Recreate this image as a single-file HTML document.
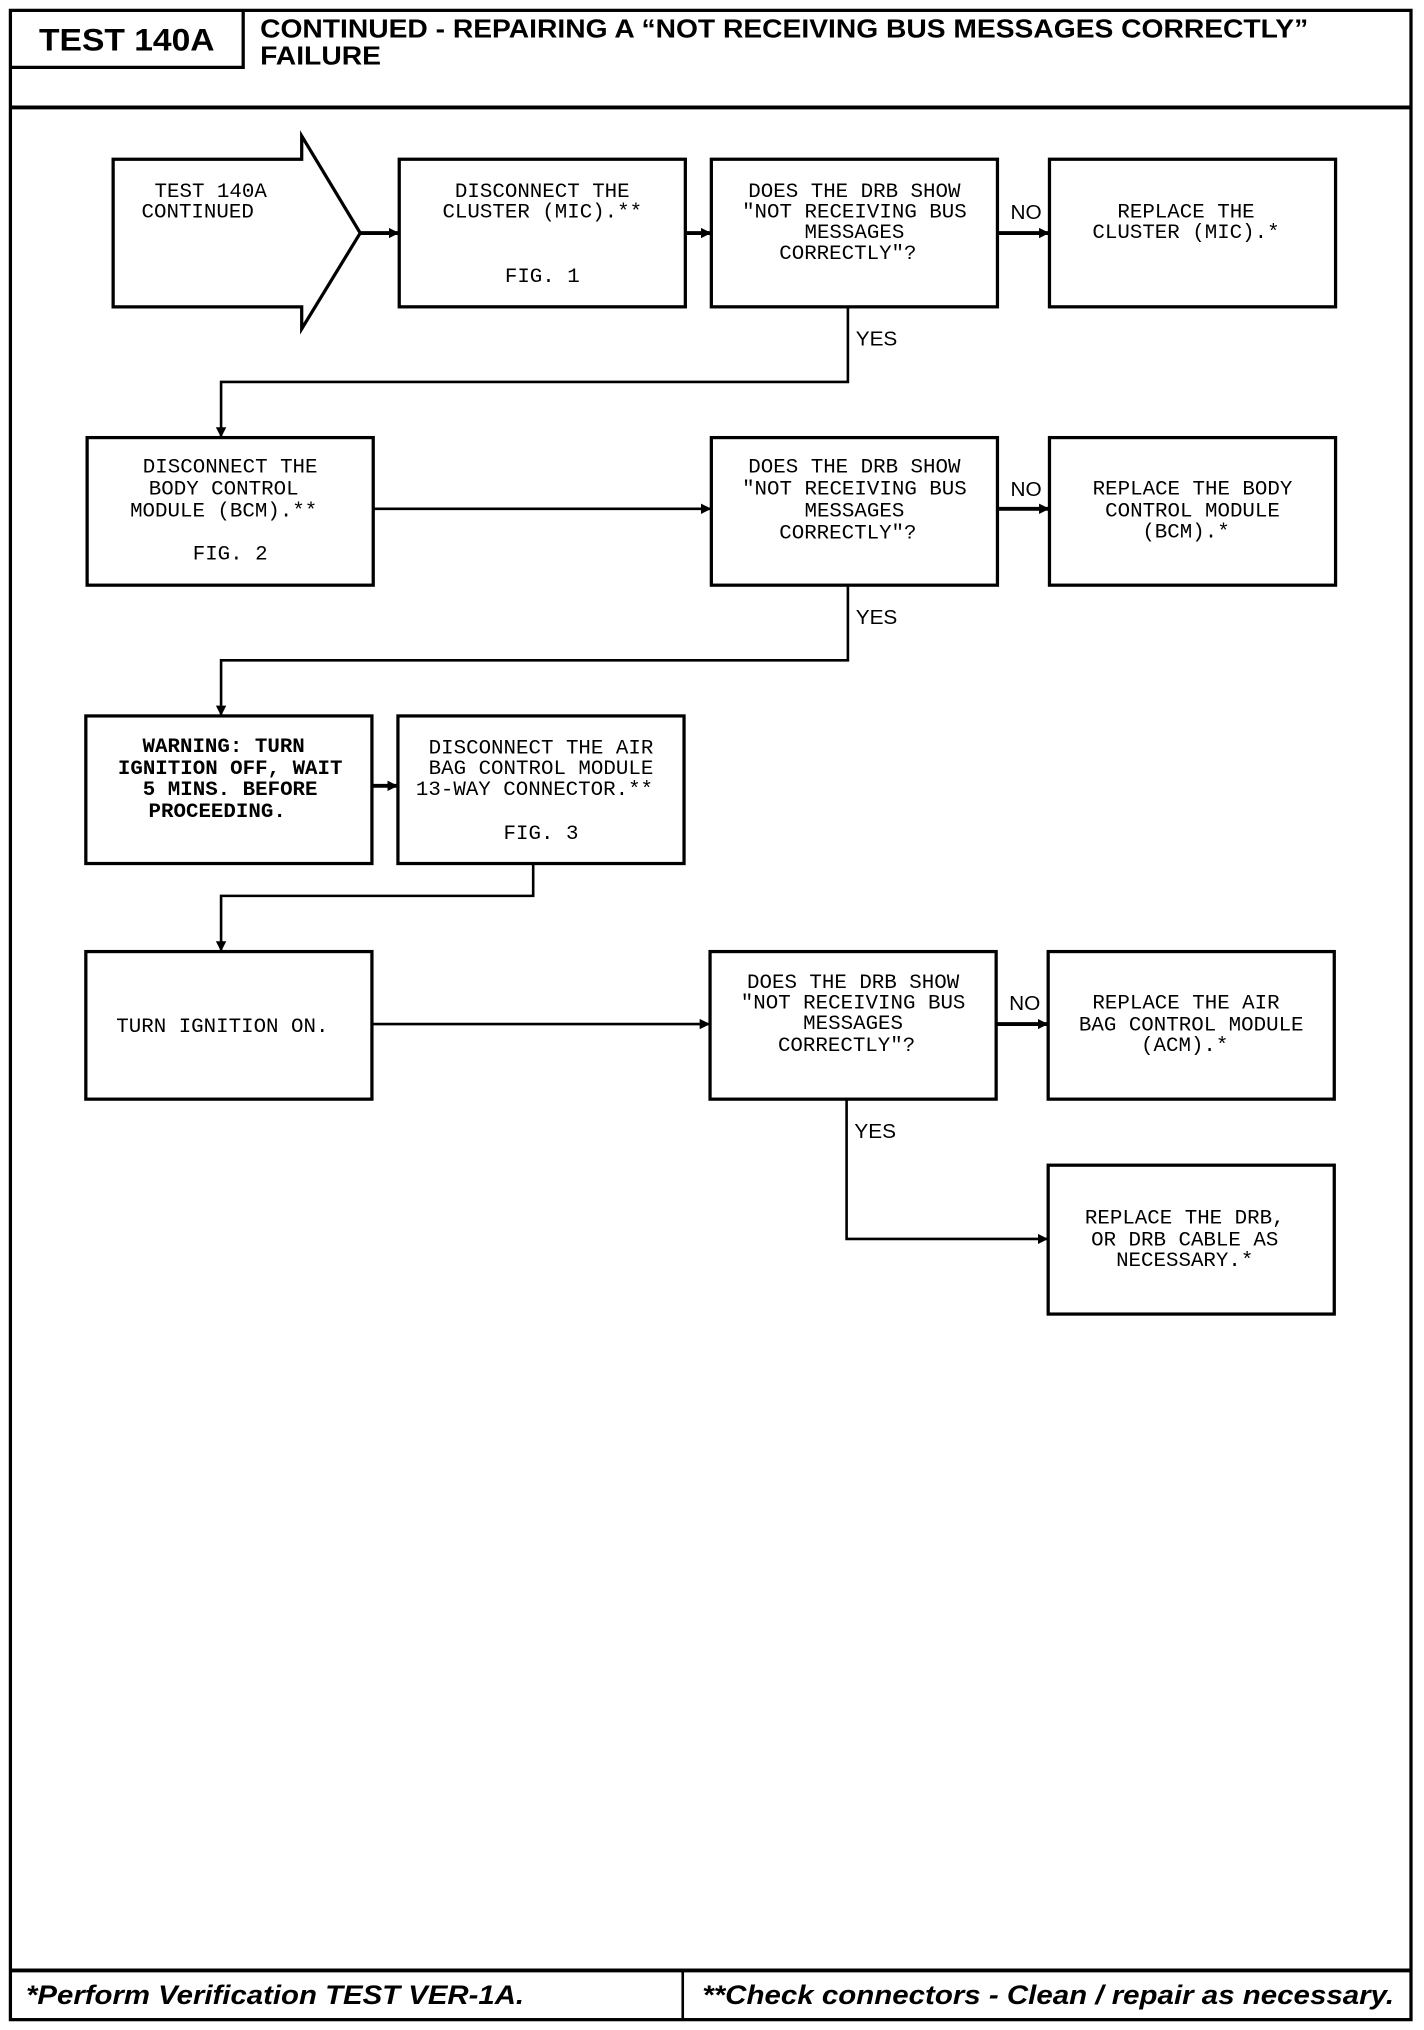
<!DOCTYPE html>
<html><head><meta charset="utf-8"><style>
html,body{margin:0;padding:0;background:#fff;}
svg{display:block;}
.t{font-family:"Liberation Mono",monospace;font-size:16px;fill:#000;text-anchor:middle;}
.tb{font-family:"Liberation Mono",monospace;font-size:16px;font-weight:bold;fill:#000;text-anchor:middle;}
.l{font-family:"Liberation Sans",sans-serif;font-size:16px;fill:#000;}
.h{font-family:"Liberation Sans",sans-serif;font-weight:bold;fill:#000;}
.f{font-family:"Liberation Sans",sans-serif;font-weight:bold;font-style:italic;font-size:21px;fill:#000;}
</style></head><body>
<svg width="1424" height="2030" viewBox="0 0 1095 1568" preserveAspectRatio="none" xmlns="http://www.w3.org/2000/svg">
<defs><marker id="a" markerWidth="8" markerHeight="8" refX="7" refY="4" orient="auto" markerUnits="userSpaceOnUse"><path d="M0,0 L8,4 L0,8 z" fill="#000"/></marker></defs>
<g fill="none" stroke="#000">
<rect x="8" y="8" width="1077" height="1552" stroke-width="2.5"/>
<line x1="8" y1="83" x2="1085" y2="83" stroke-width="3"/>
<polyline points="187,8 187,52 8,52" stroke-width="2.5"/>
<line x1="8" y1="1522" x2="1085" y2="1522" stroke-width="3"/>
<line x1="525" y1="1522" x2="525" y2="1560" stroke-width="2"/>
<g stroke-width="2.5">
<polygon points="87,123 232,123 232,105 277,180 232,254 232,237 87,237"/>
<rect x="307" y="123" width="220" height="114"/>
<rect x="547" y="123" width="220" height="114"/>
<rect x="807" y="123" width="220" height="114"/>
<rect x="67" y="338" width="220" height="114"/>
<rect x="547" y="338" width="220" height="114"/>
<rect x="807" y="338" width="220" height="114"/>
<rect x="66" y="553" width="220" height="114"/>
<rect x="306" y="553" width="220" height="114"/>
<rect x="66" y="735" width="220" height="114"/>
<rect x="546" y="735" width="220" height="114"/>
<rect x="806" y="735" width="220" height="114"/>
<rect x="806" y="900" width="220" height="115"/>
</g>
<g stroke-width="2" marker-end="url(#a)">
<line x1="277" y1="180" x2="306" y2="180" stroke-width="3"/>
<line x1="527" y1="180" x2="546" y2="180" stroke-width="3"/>
<line x1="767" y1="180" x2="806" y2="180" stroke-width="3"/>
<polyline points="652,237 652,295 170,295 170,337"/>
<line x1="287" y1="393" x2="546" y2="393"/>
<line x1="767" y1="393" x2="806" y2="393" stroke-width="3"/>
<polyline points="652,452 652,510 170,510 170,552"/>
<line x1="286" y1="607" x2="305" y2="607" stroke-width="3"/>
<polyline points="410,667 410,692 170,692 170,734"/>
<line x1="286" y1="791" x2="545" y2="791"/>
<line x1="766" y1="791" x2="805" y2="791" stroke-width="3"/>
<polyline points="651,849 651,957 805,957"/>
</g>
</g>
<text class="h" x="30" y="39" font-size="24" textLength="135" lengthAdjust="spacingAndGlyphs">TEST 140A</text>
<text class="h" x="200" y="29" font-size="20" textLength="806" lengthAdjust="spacingAndGlyphs">CONTINUED - REPAIRING A “NOT RECEIVING BUS MESSAGES CORRECTLY”</text>
<text class="h" x="200" y="50" font-size="20" textLength="93" lengthAdjust="spacingAndGlyphs">FAILURE</text>

<text class="t" x="162" y="152">TEST 140A</text>
<text class="t" x="152" y="168">CONTINUED</text>

<text class="t" x="417" y="152">DISCONNECT THE</text>
<text class="t" x="417" y="168">CLUSTER (MIC).**</text>
<text class="t" x="417" y="218">FIG. 1</text>

<text class="t" x="657" y="152">DOES THE DRB SHOW</text>
<text class="t" x="657" y="168">"NOT RECEIVING BUS</text>
<text class="t" x="657" y="184">MESSAGES</text>
<text class="t" x="652" y="200">CORRECTLY"?</text>
<text class="l" x="777" y="169">NO</text>
<text class="t" x="912" y="168">REPLACE THE</text>
<text class="t" x="912" y="184">CLUSTER (MIC).*</text>
<text class="l" x="658" y="267">YES</text>

<text class="t" x="177" y="365">DISCONNECT THE</text>
<text class="t" x="172" y="382">BODY CONTROL</text>
<text class="t" x="172" y="399">MODULE (BCM).**</text>
<text class="t" x="177" y="432">FIG. 2</text>

<text class="t" x="657" y="365">DOES THE DRB SHOW</text>
<text class="t" x="657" y="382">"NOT RECEIVING BUS</text>
<text class="t" x="657" y="399">MESSAGES</text>
<text class="t" x="652" y="416">CORRECTLY"?</text>
<text class="l" x="777" y="383">NO</text>
<text class="t" x="917" y="382">REPLACE THE BODY</text>
<text class="t" x="917" y="399">CONTROL MODULE</text>
<text class="t" x="912" y="415">(BCM).*</text>
<text class="l" x="658" y="482">YES</text>

<text class="tb" x="172" y="581">WARNING: TURN</text>
<text class="tb" x="177" y="598">IGNITION OFF, WAIT</text>
<text class="tb" x="177" y="614">5 MINS. BEFORE</text>
<text class="tb" x="167" y="631">PROCEEDING.</text>
<text class="t" x="416" y="582">DISCONNECT THE AIR</text>
<text class="t" x="416" y="598">BAG CONTROL MODULE</text>
<text class="t" x="411" y="614">13-WAY CONNECTOR.**</text>
<text class="t" x="416" y="648">FIG. 3</text>

<text class="t" x="171" y="797">TURN IGNITION ON.</text>
<text class="t" x="656" y="763">DOES THE DRB SHOW</text>
<text class="t" x="656" y="779">"NOT RECEIVING BUS</text>
<text class="t" x="656" y="795">MESSAGES</text>
<text class="t" x="651" y="812">CORRECTLY"?</text>
<text class="l" x="776" y="780">NO</text>
<text class="t" x="912" y="779">REPLACE THE AIR</text>
<text class="t" x="916" y="796">BAG CONTROL MODULE</text>
<text class="t" x="911" y="812">(ACM).*</text>
<text class="l" x="657" y="879">YES</text>

<text class="t" x="911" y="945">REPLACE THE DRB,</text>
<text class="t" x="911" y="962">OR DRB CABLE AS</text>
<text class="t" x="911" y="978">NECESSARY.*</text>

<text class="f" x="20" y="1548" textLength="383" lengthAdjust="spacingAndGlyphs">*Perform Verification TEST VER-1A.</text>
<text class="f" x="540" y="1548" textLength="532" lengthAdjust="spacingAndGlyphs">**Check connectors - Clean / repair as necessary.</text>
</svg>
</body></html>
